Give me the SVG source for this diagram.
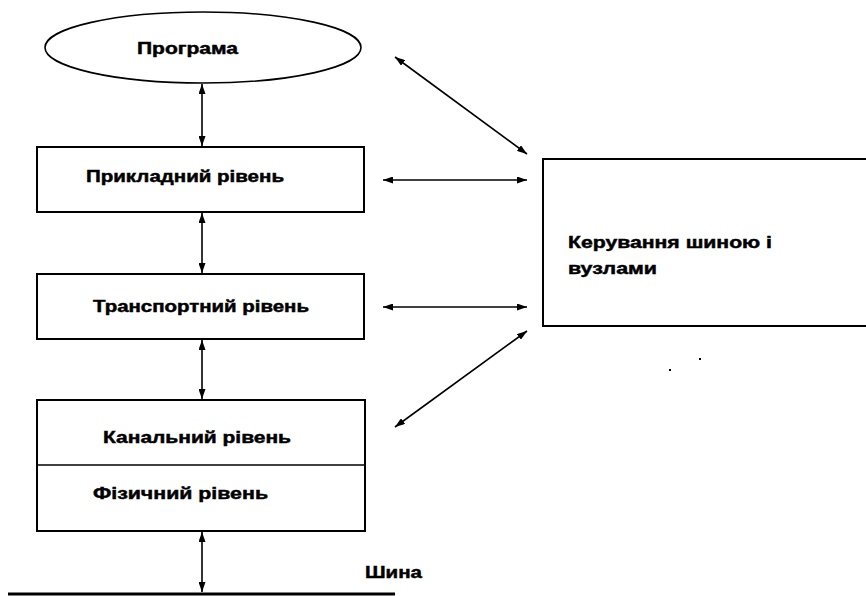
<svg xmlns="http://www.w3.org/2000/svg" width="866" height="596" viewBox="0 0 866 596">
  <style>
    .node { fill: #ffffff; stroke: #000000; stroke-width: 2; }
    .oval { fill: #ffffff; stroke: #000000; stroke-width: 1.6; }
    .lbl { font-family: "Liberation Sans", Arial, sans-serif; font-weight: bold; font-size: 16px; fill: #000000; stroke: #000000; stroke-width: 0.45; }
    .conn { stroke: #000000; stroke-width: 1.6; fill: none; marker-start: url(#head); marker-end: url(#head); }
  </style>
  <defs>
    <marker id="head" viewBox="0 0 10 7" refX="10" refY="3.5" markerWidth="10" markerHeight="7" markerUnits="userSpaceOnUse" orient="auto-start-reverse">
      <path d="M0,0 L10,3.5 L0,7 Z" fill="#000000"/>
    </marker>
  </defs>
  <rect width="866" height="596" fill="#ffffff"/>

  <g id="program">
    <ellipse class="oval" cx="203" cy="47.5" rx="158" ry="35.5"/>
    <text class="lbl" x="137" y="54" textLength="101" lengthAdjust="spacingAndGlyphs">Програма</text>
  </g>

  <g id="application-layer">
    <rect class="node" x="37" y="147" width="327" height="65"/>
    <text class="lbl" x="86" y="182" textLength="198" lengthAdjust="spacingAndGlyphs">Прикладний рівень</text>
  </g>

  <g id="transport-layer">
    <rect class="node" x="37" y="274" width="327" height="65"/>
    <text class="lbl" x="93" y="312" textLength="216" lengthAdjust="spacingAndGlyphs">Транспортний рівень</text>
  </g>

  <g id="link-physical-layer">
    <rect class="node" x="37" y="400" width="328" height="131"/>
    <line x1="37" y1="465" x2="365" y2="465" stroke="#000000" stroke-width="1.5"/>
    <text class="lbl" x="103" y="443" textLength="188" lengthAdjust="spacingAndGlyphs">Канальний рівень</text>
    <text class="lbl" x="93" y="499" textLength="175" lengthAdjust="spacingAndGlyphs">Фізичний рівень</text>
  </g>

  <g id="management">
    <rect class="node" x="543" y="159" width="340" height="167"/>
    <text class="lbl" x="568" y="248" textLength="204" lengthAdjust="spacingAndGlyphs">Керування шиною і</text>
    <text class="lbl" x="568" y="274" textLength="89" lengthAdjust="spacingAndGlyphs">вузлами</text>
  </g>

  <g id="bus">
    <line x1="8" y1="594" x2="395" y2="594" stroke="#000000" stroke-width="3"/>
    <text class="lbl" x="365" y="578" textLength="57" lengthAdjust="spacingAndGlyphs">Шина</text>
  </g>

  <g id="connectors">
    <line class="conn" x1="202" y1="84" x2="202" y2="146"/>
    <line class="conn" x1="202" y1="213" x2="202" y2="273"/>
    <line class="conn" x1="202" y1="340" x2="202" y2="399"/>
    <line class="conn" x1="202" y1="532" x2="202" y2="592"/>
    <line class="conn" x1="395" y1="57" x2="527" y2="154"/>
    <line class="conn" x1="383" y1="180" x2="527" y2="180"/>
    <line class="conn" x1="383" y1="307" x2="527" y2="307"/>
    <line class="conn" x1="527" y1="331" x2="395" y2="427"/>
  </g>

  <g id="specks" fill="#000000">
    <rect x="699" y="358" width="2" height="2"/>
    <rect x="669" y="369" width="2" height="2"/>
  </g>
</svg>
